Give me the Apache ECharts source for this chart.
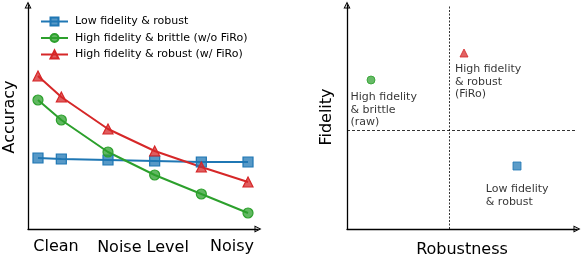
<!DOCTYPE html>
<html><head><meta charset="utf-8">
<script src="https://cdn.jsdelivr.net/npm/echarts@6/dist/echarts.min.js"></script>
<style>html,body{margin:0;padding:0;background:#fff}#c{width:582px;height:256px}</style>
</head><body><div id="c"></div>
<script>
// ---- data ----
const noiseX = [0, 0.5, 1.5, 2.5, 3.5, 4.5];
const lowFidRobust = [71, 70, 69, 68, 67, 67];
const highFidBrittle = [129, 109, 77, 54, 35, 16];
const highFidRobust = [153, 132, 100, 78, 62, 47];
const seriesNames = ['Low fidelity & robust', 'High fidelity & brittle (w/o FiRo)', 'High fidelity & robust (w/ FiRo)'];
const xEndLabels = ['Clean', 'Noisy'];
// right panel: [robustness, fidelity]
const rawPoint = [24, 149];
const firoPoint = [117, 176];
const lowPoint = [170, 63];
const pointLabels = ['High fidelity\n& brittle\n(raw)', 'High fidelity\n& robust\n(FiRo)', 'Low fidelity\n& robust'];
const robustThreshold = 102;
const fidelityThreshold = 99;

const BLUE = '#1f77b4', GREEN = '#2ca02c', RED = '#d62728';
const FONT = 'DejaVu Sans';
const arrow = 'path://M5,0 L10,10 L0,10 Z M5,3.2 L2.2,8.6 L7.8,8.6 Z';

function pairs(xs, ys) { return xs.map((x, i) => [x, ys[i]]); }
function fade(hex, a) {
  const n = parseInt(hex.slice(1), 16);
  return `rgba(${n >> 16},${(n >> 8) & 255},${n & 255},${a})`;
}
const axisLineStyle = { show: true, onZero: false, symbol: ['none', arrow], symbolSize: [7, 9], lineStyle: { color: '#000', width: 1.3 } };
const nameStyle = { fontFamily: FONT, fontSize: 16, color: '#000' };

function lineSeries(name, data, color, symbol) {
  return {
    type: 'line', name, xAxisIndex: 0, yAxisIndex: 0, data: pairs(noiseX, data),
    symbol, symbolSize: 10, showAllSymbol: true,
    lineStyle: { color, width: 2 },
    itemStyle: { color: fade(color, 0.75), borderColor: color, borderWidth: 1.2 },
    emphasis: { disabled: true }, animation: false, z: 3
  };
}
function pointSeries(pt, color, symbol, label, pos) {
  return {
    type: 'scatter', xAxisIndex: 1, yAxisIndex: 1, data: [pt], symbol, symbolSize: 8,
    itemStyle: { color: fade(color, 0.9), borderColor: color, borderWidth: 1 },
    label: { show: true, formatter: label, position: pos, align: 'left', verticalAlign: 'top',
      fontFamily: FONT, fontSize: 11, lineHeight: 12.2, color: '#000' },
    emphasis: { disabled: true }, animation: false
  };
}

const chart = echarts.init(document.getElementById('c'), null, { renderer: 'canvas' });
chart.setOption({
  backgroundColor: '#fff',
  animation: false,
  textStyle: { fontFamily: FONT },
  legend: {
    left: 35, top: 11, orient: 'vertical', itemWidth: 27, itemHeight: 10, itemGap: 5.5,
    data: seriesNames,
    textStyle: { fontFamily: FONT, fontSize: 11, color: '#000', padding: [0, 0, 0, 2] }
  },
  grid: [
    { left: 28, top: 5, width: 230, height: 224, outerBoundsMode: 'none', containLabel: false },
    { left: 347, top: 5, width: 230, height: 224, outerBoundsMode: 'none', containLabel: false }
  ],
  xAxis: [
    { type: 'value', gridIndex: 0, min: -0.214, max: 4.714,
      name: 'Noise Level', nameLocation: 'middle', nameGap: 11, nameMoveOverlap: false,
      nameTextStyle: nameStyle,
      axisLine: axisLineStyle, axisTick: { show: false }, splitLine: { show: false },
      axisLabel: { show: true, customValues: [0.386, 4.157], margin: 10,
        formatter: v => (v < 2 ? xEndLabels[0] : xEndLabels[1]),
        fontFamily: FONT, fontSize: 16, color: '#000' } },
    { type: 'value', gridIndex: 1, min: 0, max: 230,
      name: 'Robustness', nameLocation: 'middle', nameGap: 13, nameMoveOverlap: false,
      nameTextStyle: nameStyle,
      axisLine: axisLineStyle, axisTick: { show: false }, splitLine: { show: false }, axisLabel: { show: false } }
  ],
  yAxis: [
    { type: 'value', gridIndex: 0, min: 0, max: 224,
      name: 'Accuracy', nameLocation: 'middle', nameGap: 10, nameMoveOverlap: false,
      nameTextStyle: nameStyle,
      axisLine: axisLineStyle, axisTick: { show: false }, splitLine: { show: false }, axisLabel: { show: false } },
    { type: 'value', gridIndex: 1, min: 0, max: 224,
      name: 'Fidelity', nameLocation: 'middle', nameGap: 12, nameMoveOverlap: false,
      nameTextStyle: nameStyle,
      axisLine: axisLineStyle, axisTick: { show: false }, splitLine: { show: false }, axisLabel: { show: false } }
  ],
  series: [
    lineSeries(seriesNames[0], lowFidRobust, BLUE, 'rect'),
    lineSeries(seriesNames[1], highFidBrittle, GREEN, 'circle'),
    lineSeries(seriesNames[2], highFidRobust, RED, 'triangle'),
    Object.assign(pointSeries(rawPoint, GREEN, 'circle', pointLabels[0], [-16, 16]), {
      markLine: {
        silent: true, symbol: 'none', label: { show: false }, animation: false,
        data: [
          { xAxis: robustThreshold, lineStyle: { color: '#000', width: 0.8, type: [2, 1.5] } },
          { yAxis: fidelityThreshold, lineStyle: { color: '#000', width: 0.8, type: [3, 2] } }
        ]
      }
    }),
    pointSeries(firoPoint, RED, 'triangle', pointLabels[1], [-4.6, 15]),
    pointSeries(lowPoint, BLUE, 'rect', pointLabels[2], [-26.7, 22])
  ]
});
</script></body></html>
